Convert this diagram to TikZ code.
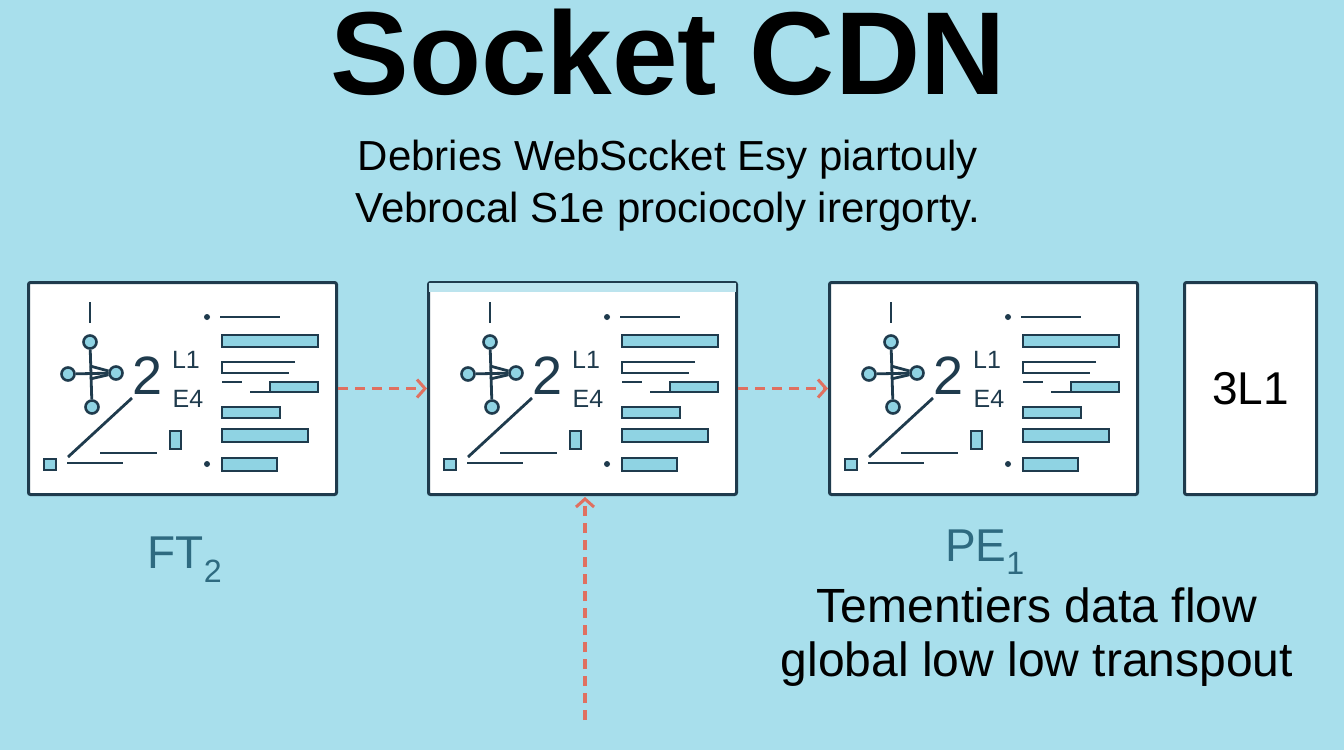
\documentclass[tikz,border=0pt]{standalone}
\usepackage{fontspec}
\setmainfont{Liberation Sans}
\usetikzlibrary{arrows.meta}
\definecolor{bg}{HTML}{A8DFEC}
\definecolor{ink}{HTML}{1F3B4D}
\definecolor{barf}{HTML}{8FD3E3}
\definecolor{arr}{HTML}{E07060}
\definecolor{teal}{HTML}{2E6A80}
\tikzset{
 box/.style={draw=ink,line width=3pt,fill=white,rounded corners=2pt,anchor=north west,inner sep=0,minimum width=308pt,minimum height=212pt},
 ln/.style={draw=ink,line width=2.8pt},
 bar/.style={draw=ink,line width=2.6pt,fill=barf},
 dn/.style={circle,draw=ink,line width=2.6pt,fill=barf,minimum size=13pt,inner sep=0},
 flow/.style={draw=arr,line width=3.5pt,dash pattern=on 10pt off 7pt,-{Straight Barb[length=8pt,width=18pt,line width=3pt]}},
 lab/.style={text=teal,inner sep=0,font=\fontsize{46}{48}\selectfont},
 gl/.style={text=ink,inner sep=0}
}
\newcommand{\boxcontent}[2]{%
\begin{scope}[shift={(#1,#2)}]
\draw[ln] (63,21)--(63,42);
\node[dn] (#1t) at (63,61) {};
\node[dn] (#1l) at (41,93) {};
\node[dn] (#1r) at (89,92) {};
\node[dn] (#1b) at (65,126) {};
\draw[ln] (#1t)--(#1b); \draw[ln] (#1l)--(#1r);
\draw[ln] (63,85)--(#1r)--(63,98);
\node[gl,font=\fontsize{54}{54}\selectfont] (#1n) at (121,95) {2};
\node[gl,font=\fontsize{25}{25}\selectfont] (#1a) at (159,79) {L1};
\node[gl,font=\fontsize{25}{25}\selectfont] (#1c) at (161,118) {E4};
\draw[ln] (105,117)--(41,176);
\draw[bar] (17,178) rectangle (29,189);
\draw[ln] (40,182)--(96,182);
\draw[ln] (73,172)--(130,172);
\draw[bar] (143,150) rectangle (154,168);
\fill[ink] (180,36) circle (3); \draw[ln] (193,36)--(253,36);
\draw[bar] (195,54) rectangle (291,66);
\draw[ln] (268,81)--(195,81)--(195,92)--(262,92);
\draw[ln] (195,101)--(215,101); \draw[ln] (223,111)--(243,111);
\draw[bar] (243,101) rectangle (291,111);
\draw[bar] (195,126) rectangle (253,137);
\draw[bar] (195,148) rectangle (281,161);
\fill[ink] (180,183) circle (3);
\draw[bar] (195,177) rectangle (250,190);
\end{scope}}
\begin{document}
\begin{tikzpicture}[x=1pt,y=-1pt]
\fill[bg] (0,0) rectangle (1344,750);
\useasboundingbox (0,0) rectangle (1344,750);
\node[font=\bfseries\fontsize{118}{120}\selectfont] (title) at (668,52) {Socket CDN};
\node[font=\fontsize{42}{52}\selectfont,align=center] (sub) at (668,186) {Debries WebSccket Esy piartouly\\Vebrocal S1e prociocoly irergorty.};
\node[box] (b1) at (27,281) {};
\node[box] (b2) at (427,281) {};
\node[box] (b3) at (828,281) {};
\node[box,minimum width=132pt] (b4) at (1183,281) {};
\fill[barf!60] (429,283) rectangle (736,292);
\boxcontent{27}{281}
\boxcontent{427}{281}
\boxcontent{828}{281}
\node[font=\fontsize{46}{46}\selectfont] (t4) at (b4.center) {3L1};
\draw[flow] (b1.east) -- (b2.west);
\draw[flow] (b2.east) -- (b3.west);
\coordinate (src) at (585,720);
\draw[flow] (src) -- (585,497);
\node[lab] (ft) at (185,560) {FT\textsubscript{2}};
\node[lab] (pe) at (985,552) {PE\textsubscript{1}};
\node[font=\fontsize{48}{54}\selectfont,align=center,inner sep=0] (desc) at (1037,637) {Tementiers data flow\\global low low transpout};
\end{tikzpicture}
\end{document}
